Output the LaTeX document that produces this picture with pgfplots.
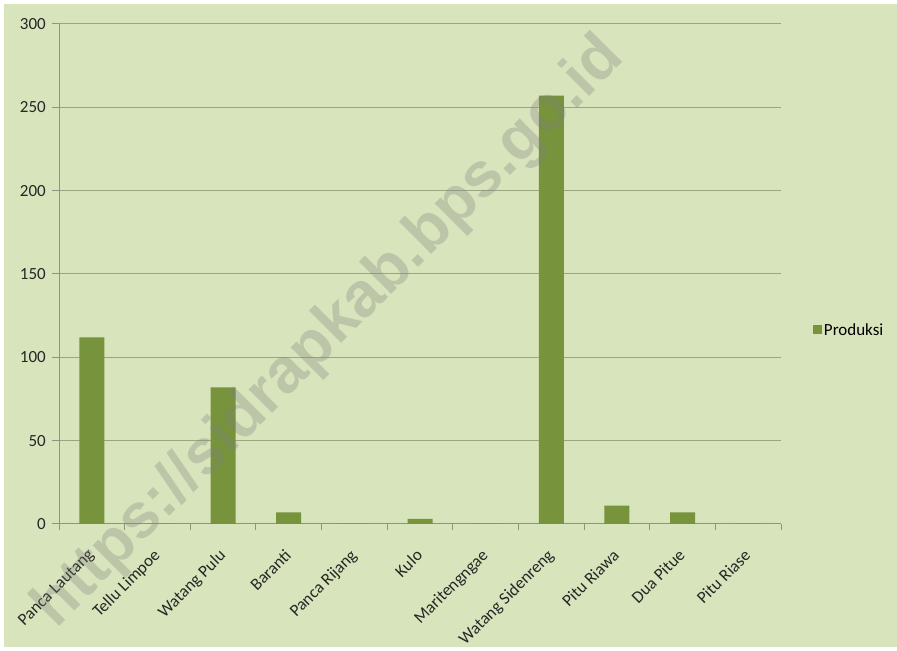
\documentclass[border=0pt]{standalone}
\usepackage{pgfplots}
\pgfplotsset{compat=1.18}
\usepackage{fontspec}
\setmainfont{Carlito}
\newfontfamily\wmfont{Liberation Sans}
\definecolor{bg}{HTML}{D8E4BC}
\definecolor{barc}{HTML}{77933C}
\definecolor{gridc}{HTML}{9AA680}
\definecolor{axisc}{HTML}{8E9480}
\begin{document}
\begin{tikzpicture}[x=1bp,y=1bp]
\fill[white] (0,0) rectangle (897,651);
\fill[bg] (4,4) rectangle (897,647);
\begin{axis}[
  at={(59bp,127bp)}, anchor=south west,
  scale only axis, width=722bp, height=500bp,
  xmin=-0.5, xmax=10.5, ymin=0, ymax=300,
  ytick={0,50,...,300},
  /pgf/number format/assume math mode=true,
  ymajorgrids, grid style={draw=gridc, line width=1bp},
  axis x line*=bottom, axis y line*=left,
  axis line style={draw=axisc, line width=1bp},
  tick align=outside,
  ytick style={draw=axisc, line width=1bp},
  major tick length=7bp,
  xtick={0,...,10},
  xticklabels={Panca Lautang,Tellu Limpoe,Watang Pulu,Baranti,Panca Rijang,Kulo,Maritengngae,Watang Sidenreng,Pitu Riawa,Dua Pitue,Pitu Riase},
  xtick style={draw=none},
  extra x ticks={-0.5,0.5,...,10.5},
  extra x tick labels={},
  extra x tick style={xtick style={draw=axisc, line width=1bp}, major tick length=6bp},
  ticklabel style={font=\fontsize{17bp}{20bp}\selectfont, text=black!85},
  xticklabel style={inner sep=0pt, xshift=-5bp, yshift=-17bp, rotate=45, anchor=north east},
  yticklabel style={inner sep=0pt, xshift=-6bp},
  legend style={at={(1.044,0.388)}, anchor=west, draw=none, fill=none,
    font=\fontsize{17bp}{20bp}\selectfont, inner sep=0pt},
  legend image code/.code={\fill[#1] (0bp,-4.5bp) rectangle (9bp,4.5bp);},
]
\addplot[ybar, bar width=25bp, fill=barc, draw=none] coordinates {
  (0,112) (1,0) (2,82) (3,7) (4,0) (5,3) (6,0) (7,257) (8,11) (9,7) (10,0)};
\addlegendentry{Produksi}
\end{axis}
\node[rotate=45, text=gray, opacity=0.3, font=\wmfont\bfseries\fontsize{63bp}{70bp}\selectfont] at (330,318) {https://sidrapkab.bps.go.id};
\end{tikzpicture}
\end{document}
